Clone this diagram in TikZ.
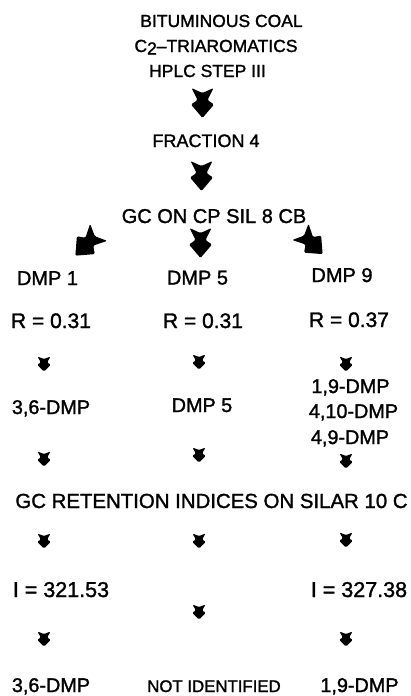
\documentclass[tikz,border=0pt]{standalone}
\usepackage{fontspec}
\setmainfont{Liberation Sans}[BoldFont={Liberation Sans}, BoldFeatures={FakeBold=1.4}]
\tikzset{
  lbl/.style={anchor=base, inner sep=0pt, font=\fontsize{#1}{#1}\selectfont\bfseries},
  blobarrow/.pic={
    \fill[black, rounded corners=1.3pt]
      (-11,-15) -- (0,-10) -- (11,-15) -- (5,-3) -- (11.5,1.5) -- (0,15)
      -- (-11.5,1.5) -- (-5,-3) -- cycle;
  },
  small/.style={xscale=.6, yscale=.5},
}
\begin{document}
\begin{tikzpicture}[x=1pt, y=-1pt]
\path[use as bounding box, fill=white] (0,0) rectangle (411,696);

% texts
\node[lbl=17.5] (coal)  at (221.5,27) {BITUMINOUS COAL};
\node[lbl=17.5] (tri)   at (216,52) {C\raisebox{-2.5pt}{2}–TRIAROMATICS};
\node[lbl=17.5] (hplc)  at (207.5,77) {HPLC STEP III};
\node[lbl=18]   (frac)  at (206,147) {FRACTION 4};
\node[lbl=20]   (gcsil) at (214,223) {GC ON CP SIL 8 CB};
\node[lbl=20]   (dmpA)  at (47.5,285) {DMP 1};
\node[lbl=20]   (dmpB)  at (197.5,284.5) {DMP 5};
\node[lbl=20]   (dmpC)  at (342,282) {DMP 9};
\node[lbl=21]   (rA)    at (51,328) {R = 0.31};
\node[lbl=21]   (rB)    at (203,328) {R = 0.31};
\node[lbl=21]   (rC)    at (349,327) {R = 0.37};
\node[lbl=19.8] (idA)   at (51,414) {3,6-DMP};
\node[lbl=19.8] (idB)   at (202,412) {DMP 5};
\node[lbl=19.8] (idC1)  at (350.5,393) {1,9-DMP};
\node[lbl=19.8] (idC2)  at (353.5,418) {4,10-DMP};
\node[lbl=19.8] (idC3)  at (350,444) {4,9-DMP};
\node[lbl=20.4] (gcret) at (211.5,508) {GC RETENTION INDICES ON SILAR 10 C};
\node[lbl=21.5] (iA)    at (61,597) {I = 321.53};
\node[lbl=21.5] (iC)    at (359,597) {I = 327.38};
\node[lbl=19.8] (resA)  at (51,692) {3,6-DMP};
\node[lbl=16.8] (resB)  at (214,692) {NOT IDENTIFIED};
\node[lbl=19.8] (resC)  at (359.5,692) {1,9-DMP};

% big arrows
\pic (ar1) at (202.5,103) {blobarrow};
\pic (ar2) at (201.5,176) {blobarrow};
\pic (ar3) at (200.5,243) {blobarrow};
\pic[rotate=-45, scale=1.1] (ar4) at (87,244) {blobarrow};
\pic[rotate=45, scale=1.05] (ar5) at (311.5,243) {blobarrow};

% small arrows
\pic[small] (s1a) at (44,364) {blobarrow};
\pic[small] (s1b) at (199,362) {blobarrow};
\pic[small] (s1c) at (346,364) {blobarrow};
\pic[small] (s2a) at (44,459) {blobarrow};
\pic[small] (s2b) at (199,455) {blobarrow};
\pic[small] (s2c) at (346,461) {blobarrow};
\pic[small] (s3a) at (44,541) {blobarrow};
\pic[small] (s3b) at (199,541) {blobarrow};
\pic[small] (s3c) at (346,540) {blobarrow};
\pic[small] (s4b) at (199,612) {blobarrow};
\pic[small] (s5a) at (44,639) {blobarrow};
\pic[small] (s5c) at (346,639) {blobarrow};
\end{tikzpicture}
\end{document}
